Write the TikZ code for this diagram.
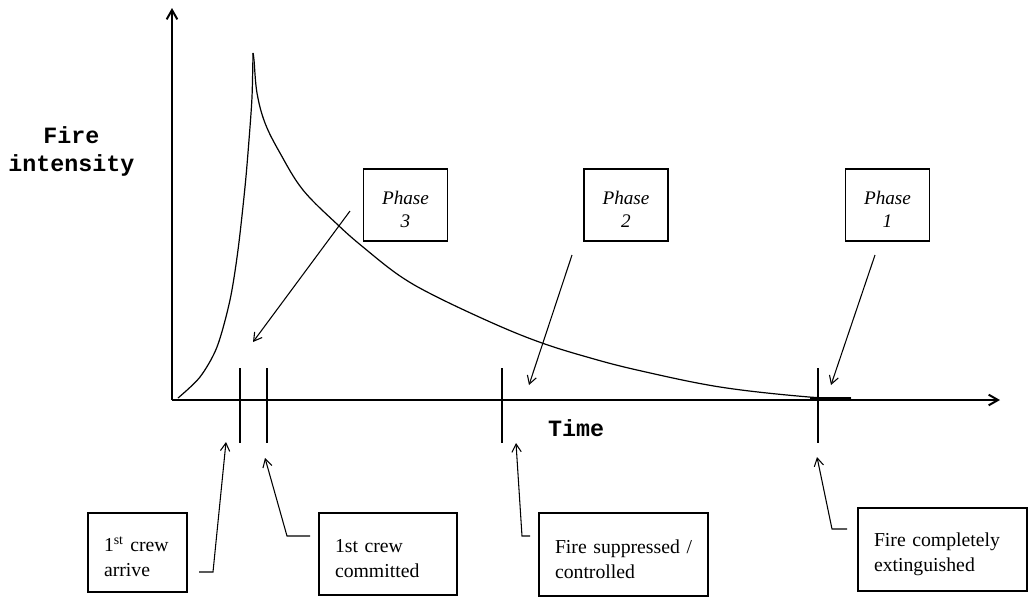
\documentclass[tikz,border=0pt]{standalone}
\usepackage{fontspec}
\setmainfont{Liberation Serif}
\newfontfamily\monob{Liberation Mono}
\usetikzlibrary{arrows.meta}
\newcommand{\toppad}[1]{\rule{0pt}{#1}}
\begin{document}
\begin{tikzpicture}[x=0.75pt,y=-0.75pt,
  axis/.style={line width=1.5pt,-{Straight Barb[length=7pt,width=8pt]}},
  tickline/.style={line width=1.5pt},
  curveline/.style={line width=0.9pt},
  phasebox/.style={draw,line width=1.4pt,minimum width=63pt,minimum height=54pt,inner sep=0pt,align=center,font=\fontsize{14.4pt}{17.3pt}\selectfont\itshape},
  evbox/.style={draw,line width=1.4pt,inner xsep=12pt,inner ysep=0pt,align=left,font=\fontsize{14.8pt}{18.8pt}\selectfont},
  ptr/.style={line width=0.8pt,-{Straight Barb[length=6pt,width=7pt]}},
  lbl/.style={font=\monob\bfseries\fontsize{17.5pt}{21pt}\selectfont,align=center,inner sep=0pt}
]
\useasboundingbox (0,0) rectangle (1028,597);

% axes
\coordinate (O) at (172,400);
\coordinate (ytop) at (172,8);
\coordinate (xend) at (1000,400);
\draw[axis] (O) -- (ytop);
\draw[axis] (O) -- (xend);

% axis labels
\node[lbl] (ylab) at (71.5,151) {Fire\\intensity};
\node[lbl] (xlab) at (576,428) {Time};

% curve
\draw[curveline] plot[smooth,tension=0.5] coordinates {(178,398)(200,377)(217,347)(230,300)(238,250)(245,187)(249,140)(252,97)(253,53)};
\draw[curveline] plot[smooth,tension=0.6] coordinates {(253,53)(254,60)(257,93)(265,123)(280,153)(303,190)(338,225)(363,247)(400,276)(437,297)(497,325)(542,343)(587,357)(637,370)(720,387)(809,397)(851,398)};
\draw[line width=1.5pt] (810,397.5) -- (851,397.5);

% ticks
\draw[tickline] (240,368) -- (240,443);
\draw[tickline] (267,368) -- (267,443);
\draw[tickline] (502,368) -- (502,443);
\draw[tickline] (818,368) -- (818,443);

% phase boxes
\node[phasebox] (p3) at (405.5,205) {\toppad{16pt}Phase\\3};
\node[phasebox] (p2) at (626,205) {\toppad{16pt}Phase\\2};
\node[phasebox] (p1) at (887.5,205) {\toppad{16pt}Phase\\1};

% phase pointers
\coordinate (p3s) at (350,211); \coordinate (p3e) at (253,342);
\coordinate (p2s) at (572,255); \coordinate (p2e) at (529,385);
\coordinate (p1s) at (875,255); \coordinate (p1e) at (831,385);
\draw[ptr] (p3s) -- (p3e);
\draw[ptr] (p2s) -- (p2e);
\draw[ptr] (p1s) -- (p1e);

% event boxes
\node[evbox,text width=50.25pt,minimum height=59.25pt] (ea) at (137.5,552.5) {\toppad{17pt}\mbox{1\textsuperscript{st} crew}\\arrive};
\node[evbox,text width=79.5pt,minimum height=61.5pt] (eb) at (388,554) {\toppad{17pt}\mbox{1st crew}\\committed};
\node[evbox,text width=102.75pt,minimum height=62.25pt] (ec) at (623.5,554.5) {\toppad{17pt}\mbox{Fire suppressed /}\\controlled};
\node[evbox,text width=102.75pt,minimum height=62.25pt] (ed) at (942.5,549.5) {\toppad{17pt}\mbox{Fire completely}\\extinguished};

% event pointers
\coordinate (as) at (199,572); \coordinate (ae) at (226,442);
\coordinate (bs) at (310,536); \coordinate (be) at (265,458);
\coordinate (cs) at (530,536); \coordinate (ce) at (516,443);
\coordinate (ds) at (847,529); \coordinate (de) at (817,457);
\draw[ptr] (as) -- (213,572) -- (ae);
\draw[ptr] (bs) -- (287,536) -- (be);
\draw[ptr] (cs) -- (522,536) -- (ce);
\draw[ptr] (ds) -- (832,529) -- (de);
\end{tikzpicture}
\end{document}
